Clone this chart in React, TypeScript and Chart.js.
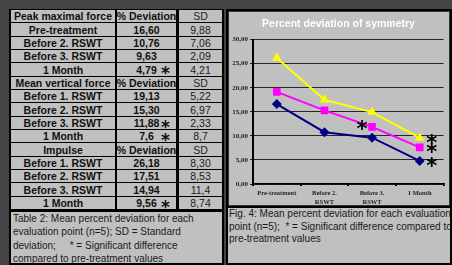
import React, { useEffect, useRef } from "react";
import { Chart, registerables } from "chart.js";
Chart.register(...registerables);

// ---------- data ----------
const chartCategories = [["Pre-treatment"], ["Before 2.", "RSWT"], ["Before 3.", "RSWT"], ["1 Month"]];
const peakRows = ["Pre-treatment", "Before 2. RSWT", "Before 3. RSWT", "1 Month"];
const laterRows = ["Before 1. RSWT", "Before 2. RSWT", "Before 3. RSWT", "1 Month"];
const peakDev = ["16,60", "10,76", "9,63", "4,79"];
const peakSD = ["9,88", "7,06", "2,09", "4,21"];
const peakSig = [false, false, false, true];
const meanDev = ["19,13", "15,30", "11,88", "7,6"];
const meanSD = ["5,22", "6,97", "2,33", "8,7"];
const meanSig = [false, false, true, true];
const impDev = ["26,18", "17,51", "14,94", "9,56"];
const impSD = ["8,30", "8,53", "11,4", "8,74"];
const impSig = [false, false, false, true];
const yTicks = [0, 5, 10, 15, 20, 25, 30];

const toNum = (s: string) => parseFloat(s.replace(",", "."));
const fmtTick = (v: number) => v.toFixed(2).replace(".", ",");

const GRAY = "#c0c0c0";
const SANS = '"Liberation Sans", Arial, sans-serif';

function LeftTable() {
  const sections = [
    { title: "Peak maximal force", rows: peakRows, dev: peakDev, sd: peakSD, sig: peakSig },
    { title: "Mean vertical force", rows: laterRows, dev: meanDev, sd: meanSD, sig: meanSig },
    { title: "Impulse", rows: laterRows, dev: impDev, sd: impSD, sig: impSig },
  ];
  const cols = [
    { left: 11, width: 104 },
    { left: 117, width: 59 },
    { left: 179, width: 43 },
  ];
  const out: any[] = [];
  let r = 0;
  const cell = (key: string, row: number, col: number, text: string, bold: boolean, star?: boolean) => {
    const top = Math.round(10 + row * 13.333);
    const bottom = Math.round(10 + (row + 1) * 13.333) - 1;
    out.push(
      <div
        key={key}
        style={{
          position: "absolute",
          left: cols[col].left,
          top,
          width: cols[col].width,
          height: bottom - top,
          background: GRAY,
          display: "flex",
          alignItems: "center",
          justifyContent: "center",
          font: `${bold ? "bold " : ""}10.5px ${SANS}`,
          color: bold ? "#111" : "#222",
          whiteSpace: "nowrap",
          overflow: "visible",
        }}
      >
        {text}
        {star ? (
          <span
            style={{
              position: "absolute",
              left: 44,
              top: 2,
              font: 'bold 17px "DejaVu Sans", sans-serif',
              lineHeight: "17px",
              color: "#111",
            }}
          >
            *
          </span>
        ) : null}
      </div>
    );
  };
  sections.forEach((s, si) => {
    cell(`h${si}a`, r, 0, s.title, true);
    cell(`h${si}b`, r, 1, "% Deviation", true);
    cell(`h${si}c`, r, 2, "SD", false);
    r++;
    s.rows.forEach((name, i) => {
      cell(`r${si}${i}a`, r, 0, name, true);
      cell(`r${si}${i}b`, r, 1, s.dev[i], true, s.sig[i]);
      cell(`r${si}${i}c`, r, 2, s.sd[i], false);
      r++;
    });
  });
  return <>{out}</>;
}

const leftCaption = [
  "Table 2: Mean percent deviation for each",
  "evaluation point (n=5); SD = Standard",
  "deviation;     * = Significant difference",
  "compared to pre-treatment values",
];
const rightCaption = [
  "Fig. 4: Mean percent deviation for each evaluation",
  "point (n=5);  * = Significant difference compared to",
  "pre-treatment values",
];

function SymmetryChart() {
  const ref = useRef<HTMLCanvasElement | null>(null);
  useEffect(() => {
    if (!ref.current) return;
    const sigSets = [peakSig, meanSig, impSig];
    const starPlugin = {
      id: "stars",
      afterDatasetsDraw(chart: any) {
        const ctx = chart.ctx;
        ctx.save();
        ctx.font = 'bold 21px "DejaVu Sans", sans-serif';
        ctx.fillStyle = "#000";
        ctx.textAlign = "center";
        ctx.textBaseline = "alphabetic";
        const m = ctx.measureText("*");
        const asc = m.actualBoundingBoxAscent;
        const desc = m.actualBoundingBoxDescent;
        sigSets.forEach((flags, di) => {
          const meta = chart.getDatasetMeta(di);
          flags.forEach((f, j) => {
            if (!f) return;
            const pt = meta.data[j];
            const last = j === flags.length - 1;
            const x = pt.x + (last ? 12 : -10);
            const y = pt.y + (last ? 1 : -2);
            ctx.fillText("*", x, y + (asc - desc) / 2);
          });
        });
        ctx.restore();
      },
    };
    const chart = new Chart(ref.current, {
      type: "line",
      data: {
        labels: chartCategories as any,
        datasets: [
          {
            label: "Peak maximal force",
            data: peakDev.map(toNum),
            borderColor: "#000080",
            backgroundColor: "#000080",
            borderWidth: 2,
            pointStyle: "rectRot",
            pointRadius: 5,
            pointBorderWidth: 0,
          },
          {
            label: "Mean vertical force",
            data: meanDev.map(toNum),
            borderColor: "#ff00ff",
            backgroundColor: "#ff00ff",
            borderWidth: 2,
            pointStyle: "rect",
            pointRadius: 5.4,
            pointBorderWidth: 0,
          },
          {
            label: "Impulse",
            data: impDev.map(toNum),
            borderColor: "#ffff00",
            backgroundColor: "#ffff00",
            borderWidth: 2,
            pointStyle: "triangle",
            pointRadius: 5.5,
            pointBorderWidth: 0,
          },
        ],
      },
      options: {
        animation: false,
        responsive: false,
        maintainAspectRatio: false,
        layout: { padding: { left: 0, right: 2, top: 0, bottom: 0 } },
        plugins: {
          legend: { display: false },
          tooltip: { enabled: false },
          title: {
            display: true,
            text: "Percent deviation of symmetry",
            color: "#ffffff",
            font: { family: SANS, size: 10.5, weight: "bold" },
            padding: { top: 6, bottom: 9 },
          },
        },
        scales: {
          x: {
            offset: true,
            grid: {
              display: true,
              offset: true,
              drawOnChartArea: false,
              drawTicks: true,
              tickLength: 2,
              color: "#000",
              lineWidth: 2,
            },
            border: { display: true, color: "#000", width: 1.5 },
            ticks: {
              color: "#222",
              padding: 3,
              maxRotation: 0,
              autoSkip: false,
              font: { family: '"Liberation Serif", serif', size: 6.5, weight: "bold", lineHeight: 1.35 },
            },
            afterFit: (s: any) => {
              s.height = 22;
            },
          },
          y: {
            min: 0,
            max: 30,
            afterBuildTicks: (s: any) => {
              s.ticks = yTicks.map((v) => ({ value: v }));
            },
            grid: {
              color: "#262626",
              lineWidth: 1,
              tickLength: 3,
            },
            border: { display: true, color: "#000", width: 2 },
            ticks: {
              color: "#222",
              padding: 2,
              callback: (v: any) => fmtTick(Number(v)),
              font: { family: '"Liberation Serif", serif', size: 7, weight: "bold" },
            },
            afterFit: (s: any) => {
              s.width = 23;
            },
          },
        },
      },
      plugins: [starPlugin],
    });
    return () => chart.destroy();
  }, []);
  return (
    <canvas
      ref={ref}
      width={219}
      height={194}
      style={{ position: "absolute", left: 230, top: 12, width: 219, height: 194 }}
    />
  );
}

export default function App() {
  useEffect(() => {
    document.body.style.margin = "0";
  }, []);
  return (
    <div
      style={{
        position: "fixed",
        left: 0,
        top: 0,
        width: 452,
        height: 265,
        background: "#444",
        overflow: "hidden",
      }}
    >
      {/* left frame */}
      <div style={{ position: "absolute", left: 9, top: 9, width: 215, height: 256, background: "#000" }} />
      <LeftTable />
      <div
        style={{
          position: "absolute",
          left: 11,
          top: 212,
          width: 211,
          height: 51,
          background: GRAY,
          font: `10px ${SANS}`,
          color: "#1a1a1a",
          lineHeight: "13.3px",
          whiteSpace: "pre",
          paddingLeft: 2,
          boxSizing: "border-box",
        }}
      >
        {leftCaption.map((l, i) => (
          <div key={i}>{l}</div>
        ))}
      </div>
      {/* right frame */}
      <div style={{ position: "absolute", left: 226, top: 9, width: 226, height: 256, background: "#000" }} />
      <div
        style={{
          position: "absolute",
          left: 228,
          top: 11,
          width: 222,
          height: 195,
          background: GRAY,
          border: "1px solid #333",
          boxSizing: "border-box",
        }}
      />
      <SymmetryChart />
      <div
        style={{
          position: "absolute",
          left: 228,
          top: 208,
          width: 222,
          height: 55,
          background: GRAY,
          font: `10px ${SANS}`,
          color: "#1a1a1a",
          lineHeight: "12.5px",
          whiteSpace: "pre",
          overflow: "hidden",
          paddingLeft: 1,
          boxSizing: "border-box",
        }}
      >
        {rightCaption.map((l, i) => (
          <div key={i}>{l}</div>
        ))}
      </div>
    </div>
  );
}
